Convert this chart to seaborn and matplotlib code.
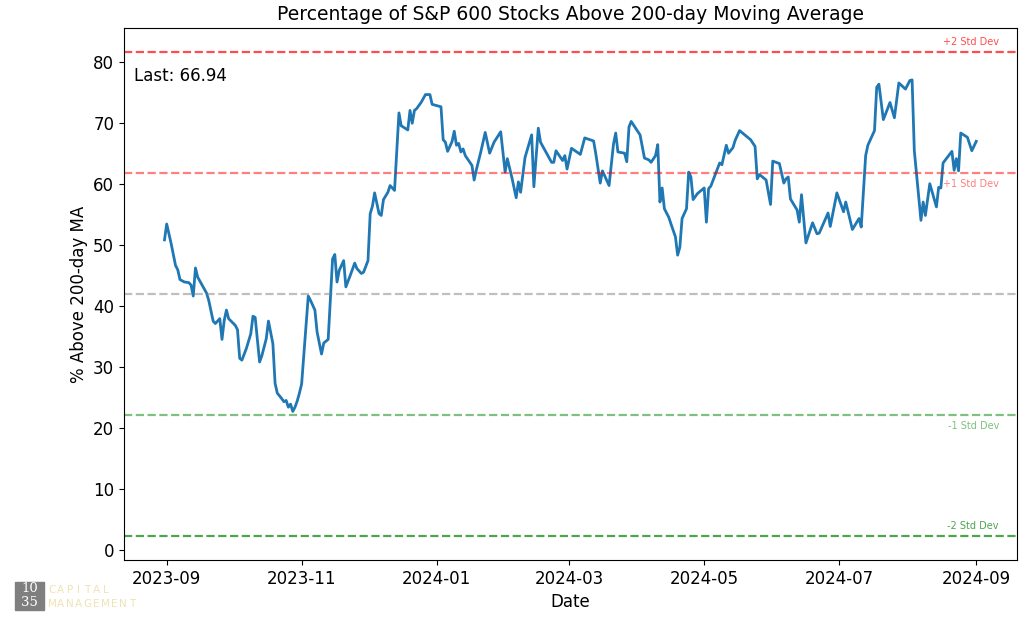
import pandas as pd
import seaborn as sns
import matplotlib.pyplot as plt
import matplotlib.dates as mdates
from matplotlib.patches import Rectangle

# Datos
fechas = [
    "2023-08-31", "2023-09-01", "2023-09-03", "2023-09-05", "2023-09-06", "2023-09-07",
    "2023-09-09", "2023-09-11", "2023-09-12", "2023-09-13", "2023-09-14", "2023-09-15",
    "2023-09-17", "2023-09-19", "2023-09-20", "2023-09-22", "2023-09-23", "2023-09-25",
    "2023-09-26", "2023-09-27", "2023-09-28", "2023-09-29", "2023-10-02", "2023-10-03",
    "2023-10-04", "2023-10-05", "2023-10-07", "2023-10-09", "2023-10-10", "2023-10-11",
    "2023-10-13", "2023-10-14", "2023-10-16", "2023-10-17", "2023-10-19", "2023-10-20",
    "2023-10-21", "2023-10-23", "2023-10-24", "2023-10-25", "2023-10-26", "2023-10-27",
    "2023-10-28", "2023-10-29", "2023-10-30", "2023-10-31", "2023-11-01", "2023-11-04",
    "2023-11-05", "2023-11-07", "2023-11-08", "2023-11-10", "2023-11-11", "2023-11-13",
    "2023-11-15", "2023-11-16", "2023-11-17", "2023-11-18", "2023-11-20", "2023-11-21",
    "2023-11-23", "2023-11-25", "2023-11-26", "2023-11-28", "2023-11-29", "2023-12-01",
    "2023-12-02", "2023-12-03", "2023-12-04", "2023-12-06", "2023-12-07", "2023-12-08",
    "2023-12-10", "2023-12-11", "2023-12-13", "2023-12-15", "2023-12-16", "2023-12-19",
    "2023-12-20", "2023-12-21", "2023-12-22", "2023-12-23", "2023-12-25", "2023-12-27",
    "2023-12-29", "2023-12-30", "2024-01-03", "2024-01-04", "2024-01-05", "2024-01-06",
    "2024-01-08", "2024-01-09", "2024-01-10", "2024-01-11", "2024-01-12", "2024-01-13",
    "2024-01-14", "2024-01-17", "2024-01-18", "2024-01-19", "2024-01-21", "2024-01-23",
    "2024-01-25", "2024-01-27", "2024-01-30", "2024-02-01", "2024-02-02", "2024-02-04",
    "2024-02-06", "2024-02-07", "2024-02-08", "2024-02-10", "2024-02-13", "2024-02-14",
    "2024-02-16", "2024-02-17", "2024-02-22", "2024-02-23", "2024-02-24", "2024-02-27",
    "2024-02-28", "2024-02-29", "2024-03-02", "2024-03-06", "2024-03-08", "2024-03-12",
    "2024-03-13", "2024-03-15", "2024-03-16", "2024-03-19", "2024-03-21", "2024-03-22",
    "2024-03-23", "2024-03-26", "2024-03-27", "2024-03-28", "2024-03-29", "2024-04-02",
    "2024-04-04", "2024-04-06", "2024-04-07", "2024-04-09", "2024-04-10", "2024-04-11",
    "2024-04-12", "2024-04-13", "2024-04-15", "2024-04-16", "2024-04-18", "2024-04-19",
    "2024-04-20", "2024-04-21", "2024-04-23", "2024-04-24", "2024-04-25", "2024-04-26",
    "2024-04-28", "2024-05-01", "2024-05-02", "2024-05-03", "2024-05-04", "2024-05-08",
    "2024-05-09", "2024-05-11", "2024-05-12", "2024-05-14", "2024-05-15", "2024-05-17",
    "2024-05-18", "2024-05-22", "2024-05-24", "2024-05-25", "2024-05-26", "2024-05-29",
    "2024-05-31", "2024-06-01", "2024-06-04", "2024-06-06", "2024-06-07", "2024-06-08",
    "2024-06-09", "2024-06-12", "2024-06-13", "2024-06-14", "2024-06-16", "2024-06-19",
    "2024-06-21", "2024-06-22", "2024-06-26", "2024-06-27", "2024-06-30", "2024-07-03",
    "2024-07-04", "2024-07-07", "2024-07-10", "2024-07-11", "2024-07-13", "2024-07-14",
    "2024-07-17", "2024-07-18", "2024-07-19", "2024-07-21", "2024-07-24", "2024-07-26",
    "2024-07-28", "2024-07-31", "2024-08-02", "2024-08-03", "2024-08-04", "2024-08-07",
    "2024-08-08", "2024-08-09", "2024-08-11", "2024-08-14", "2024-08-15", "2024-08-16",
    "2024-08-17", "2024-08-21", "2024-08-22", "2024-08-23", "2024-08-24", "2024-08-25",
    "2024-08-28", "2024-08-30", "2024-09-01",
]
porcentaje = [
    50.8, 53.4, 50.2, 46.6, 45.9, 44.3,
    43.9, 43.8, 43.4, 41.6, 46.2, 44.7,
    43.4, 42.1, 40.9, 37.5, 37.1, 37.9,
    34.5, 37.6, 39.3, 37.9, 36.8, 36.1,
    31.4, 31.1, 33.0, 35.4, 38.3, 38.1,
    30.8, 31.8, 34.6, 37.5, 33.8, 27.3,
    25.7, 24.8, 24.3, 24.5, 23.4, 23.9,
    22.7, 23.4, 24.4, 25.7, 27.2, 41.6,
    40.9, 39.3, 35.7, 32.1, 33.9, 34.5,
    47.7, 48.4, 43.9, 45.8, 47.4, 43.1,
    45.0, 47.0, 46.1, 45.3, 45.5, 47.4,
    55.1, 56.3, 58.5, 55.1, 54.8, 57.4,
    58.6, 59.7, 58.9, 71.6, 69.5, 68.8,
    72.0, 69.9, 72.0, 72.3, 73.3, 74.6,
    74.6, 73.0, 72.6, 67.2, 66.8, 65.3,
    66.9, 68.6, 66.3, 66.6, 65.2, 65.7,
    64.6, 63.0, 60.6, 62.3, 65.2, 68.4,
    65.0, 66.8, 68.5, 61.9, 64.1, 61.1,
    57.7, 60.3, 58.6, 64.3, 68.0, 59.5,
    69.1, 66.8, 63.5, 63.5, 65.4, 63.8,
    64.6, 62.4, 65.8, 64.8, 67.5, 67.0,
    64.9, 60.1, 62.1, 59.7, 66.5, 68.3,
    65.2, 65.0, 63.6, 69.3, 70.2, 68.0,
    64.2, 63.9, 63.5, 64.6, 66.4, 57.0,
    59.3, 55.9, 54.5, 53.4, 51.3, 48.3,
    49.6, 54.3, 55.9, 61.9, 61.1, 57.4,
    58.4, 59.3, 53.7, 59.2, 59.6, 63.4,
    63.1, 66.3, 65.0, 65.9, 67.1, 68.7,
    68.4, 67.2, 66.1, 60.8, 61.5, 60.6,
    56.6, 63.7, 63.3, 60.1, 60.8, 61.1,
    57.5, 55.7, 53.7, 58.2, 50.3, 53.6,
    51.8, 51.9, 55.2, 53.0, 58.5, 55.4,
    57.0, 52.5, 54.3, 52.9, 64.6, 66.3,
    68.7, 75.8, 76.3, 70.5, 73.3, 70.8,
    76.5, 75.5, 76.9, 77.0, 65.4, 54.0,
    57.0, 54.8, 60.0, 56.2, 59.4, 59.3,
    63.4, 65.3, 62.2, 64.1, 62.1, 68.3,
    67.6, 65.4, 66.94,
]

# Media y desviacion estandar historicas (lineas de referencia)
media = 41.9
desv = 19.8
ultimo = 66.94

df = pd.DataFrame({"fecha": pd.to_datetime(fechas), "pct": porcentaje})

fig = plt.figure(figsize=(10.24, 6.28), dpi=100)
ax = fig.add_axes([0.121, 0.108, 0.872, 0.847])

sns.lineplot(data=df, x="fecha", y="pct", ax=ax, color="#1f77b4", linewidth=2)

# lineas de desviacion
niveles = [
    (media + 2 * desv, "red", 0.7, "+2 Std Dev", "bottom"),
    (media + desv, "red", 0.5, "+1 Std Dev", "top"),
    (media, "gray", 0.5, None, None),
    (media - desv, "green", 0.5, "-1 Std Dev", "top"),
    (media - 2 * desv, "green", 0.7, "-2 Std Dev", "bottom"),
]
for nivel, color, alfa, etiqueta, va in niveles:
    ax.axhline(nivel, color=color, alpha=alfa, linestyle="--", linewidth=1.6)
    if etiqueta:
        off = 0.9 if va == "bottom" else -1.0
        ax.text(0.98, nivel + off, etiqueta, transform=ax.get_yaxis_transform(),
                ha="right", va=va, fontsize=7, color=color, alpha=alfa)

ax.text(0.011, 0.91, f"Last: {ultimo:.2f}", transform=ax.transAxes,
        fontsize=12, va="center", ha="left")

ax.set_title("Percentage of S&P 600 Stocks Above 200-day Moving Average", fontsize=13.5)
ax.set_xlabel("Date", fontsize=12)
ax.set_ylabel("% Above 200-day MA", fontsize=12)
ax.tick_params(labelsize=12)
ax.xaxis.set_major_locator(mdates.MonthLocator(interval=2))
ax.xaxis.set_major_formatter(mdates.DateFormatter("%Y-%m"))

# logo
fig.patches.append(Rectangle((15 / 1024, 1 - 610 / 628), 29 / 1024, 28 / 628,
                             transform=fig.transFigure, color="#7f7f7f", zorder=5))
fig.text(29.5 / 1024, 1 - 589 / 628, "10", color="white", fontsize=9.5,
         family="DejaVu Serif", ha="center", va="center", zorder=6)
fig.text(29.5 / 1024, 1 - 603 / 628, "35", color="white", fontsize=9.5,
         family="DejaVu Serif", ha="center", va="center", zorder=6)
for fila, palabra in [(590, "CAPITAL"), (604, "MANAGEMENT")]:
    for i, letra in enumerate(palabra):
        fig.text((52 + i * 8.9) / 1024, 1 - fila / 628, letra, color="#efe3b5",
                 fontsize=7.5, ha="center", va="center")

plt.savefig("out.png", dpi=100)
